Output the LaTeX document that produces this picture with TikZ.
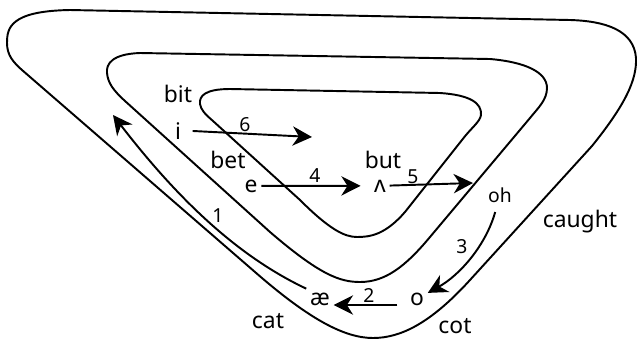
\documentclass[tikz,border=0pt]{standalone}
\usepackage{fontspec}
\setmainfont{Noto Sans}
\usetikzlibrary{arrows.meta}
\tikzset{
    word/.style={
           font=\fontsize{13}{15}\selectfont,
           inner sep=1pt,
           anchor=base,
           },
    vowel/.style={
           font=\fontsize{13}{15}\selectfont,
           inner sep=2pt,
           anchor=base,
           },
    num/.style={
           font=\fontsize{11}{13}\selectfont,
           inner sep=0pt,
           anchor=base,
           },
    move/.style={
           -{Stealth[length=11pt,width=11pt,inset=3.5pt]},
           line width=1.1pt,
           },
    band/.style={
           line width=1.1pt,
           },
}

\begin{document}
\begin{tikzpicture}[x=0.02cm,y=-0.02cm]
	\useasboundingbox (0,0) rectangle (637,339);

	%outer band
	\draw[band] (70,10) -- (570,20)
		.. controls (605,21) and (634,30) .. (636,58)
		.. controls (637,80) and (625,105) .. (592,146)
		-- (470,280)
		.. controls (430,324) and (400,338) .. (373,338)
		.. controls (345,338) and (310,320) .. (255,272)
		-- (22,70)
		.. controls (13,62) and (7,55) .. (7,43)
		.. controls (7,28) and (10,11) .. (70,10) -- cycle;

	%middle band
	\draw[band] (140,53) -- (490,59)
		.. controls (525,62) and (547,72) .. (547,88)
		.. controls (547,100) and (538,108) .. (530,118)
		-- (430,237)
		.. controls (405,267) and (385,282) .. (360,282)
		.. controls (340,282) and (320,275) .. (270,232)
		-- (125,101)
		.. controls (113,90) and (108,83) .. (107,73)
		.. controls (106,64) and (112,54) .. (140,53) -- cycle;

	%inner band
	\draw[band] (230,89) -- (440,93)
		.. controls (470,95) and (482,103) .. (481,115)
		.. controls (480,122) and (471,128) .. (462,140)
		-- (405,212)
		.. controls (385,235) and (370,237) .. (357,237)
		.. controls (345,237) and (330,230) .. (300,200)
		-- (213,121)
		.. controls (205,114) and (201,110) .. (200,104)
		.. controls (199,96) and (205,89) .. (230,89) -- cycle;

	%words and vowels
	\node[word] (bit) at (178,102) {bit};
	\node[vowel] (i) at (178,139) {i};
	\node[word] (bet) at (228,168) {bet};
	\node[vowel] (e) at (251,192) {e};
	\node[word] (but) at (383,168) {but};
	\node[vowel] (wedge) at (380,192) {ʌ};
	\node[vowel, font=\fontsize{11}{13}\selectfont] (oh) at (500,202) {oh};
	\node[word] (caught) at (580,227) {caught};
	\node[vowel] (o) at (417,305) {o};
	\node[vowel] (ae) at (320,305) {æ};
	\node[word] (cat) at (268,328) {cat};
	\node[word] (cot) at (455,333) {cot};

	%step numbers
	\node[num] (n1) at (218,222) {1};
	\node[num] (n2) at (369,302) {2};
	\node[num] (n3) at (462,253) {3};
	\node[num] (n4) at (315,182) {4};
	\node[num] (n5) at (413,183) {5};
	\node[num] (n6) at (245,131) {6};

	\coordinate (end1) at (113,115);
	\coordinate (end5) at (473,183);
	\coordinate (end6) at (312,137);

	%EDGES
	\path[move]	(e) edge[shorten >=5.5pt] (wedge)
				(wedge) edge (end5)
				(i.east) edge[shorten <=4.5pt] (end6)
				(o.base west) edge[shorten <=5pt] (ae.base east);
	\draw[move, shorten <=3.5pt] (oh) .. controls (486,245) and (460,275) .. (o);
	\draw[move] (ae.north west) .. controls (250,262) and (190,215) .. (end1);

\end{tikzpicture}
\end{document}
